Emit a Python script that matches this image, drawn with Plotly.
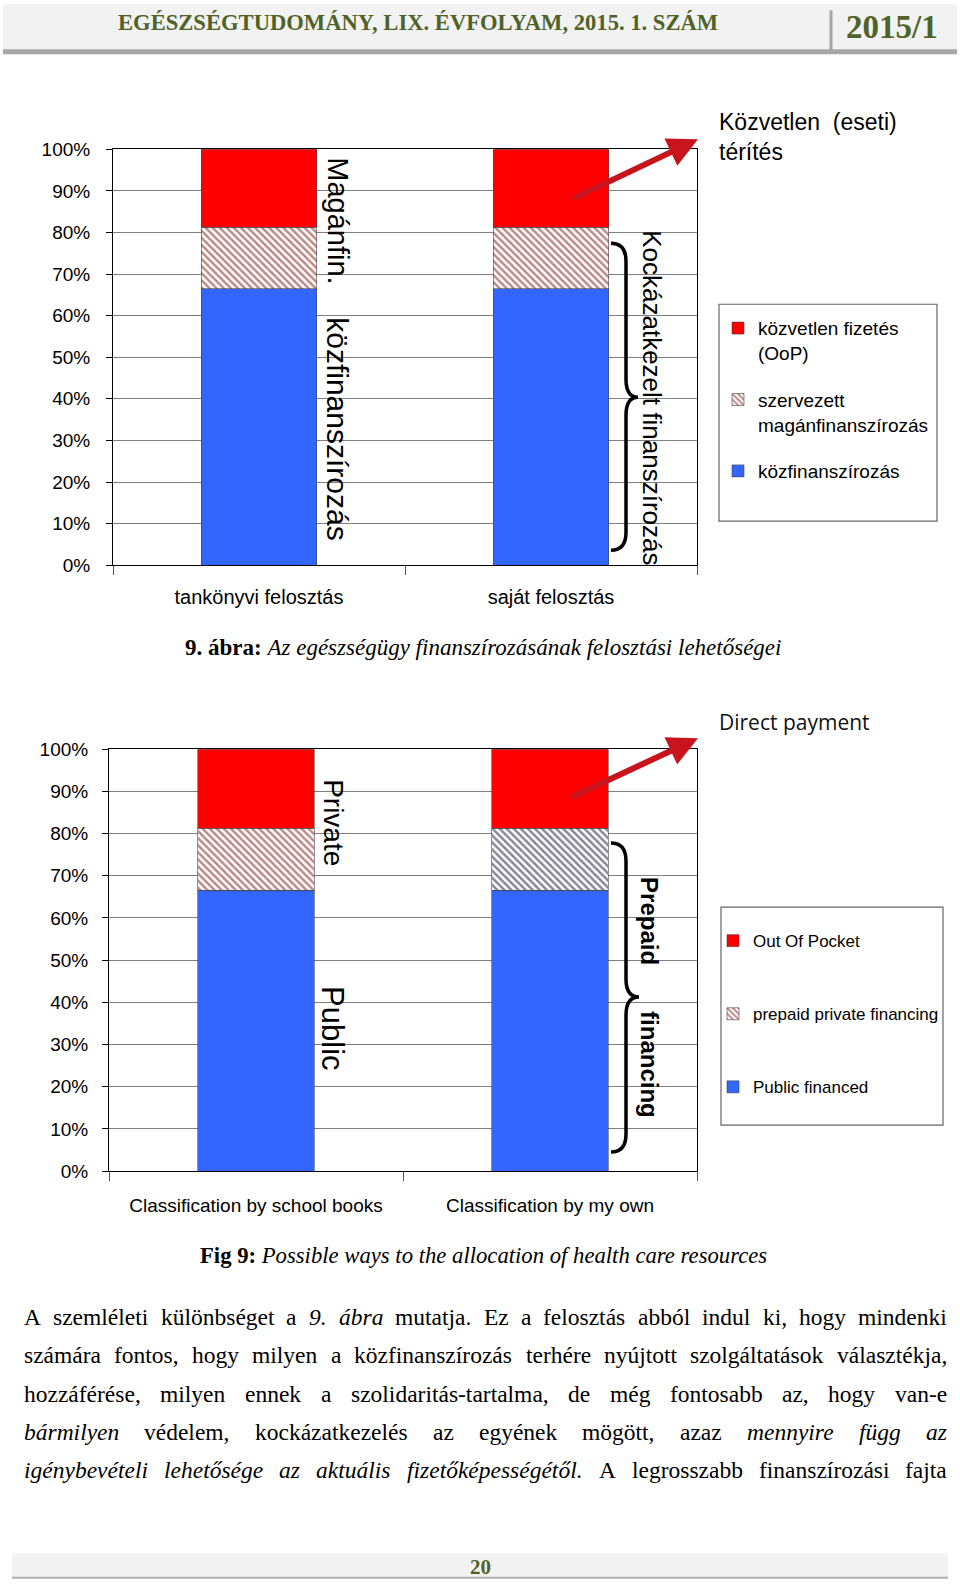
import unicodedata
import plotly.graph_objects as go

W, H = 960, 1590
# vertical calibration of the photographed page (measured from earlier renders)
OFF, SC = 9.7, 0.9870


def px(x):
    return x / W


def py(y):
    return 1 - (y - OFF) / SC / H


# ---------------- data ----------------
categories_hu = ["tankönyvi felosztás", "saját felosztás"]
categories_en = ["Classification by school books", "Classification by my own"]
public_share = [0.665, 0.665]
prepaid_private_share = [0.147, 0.147]
oop_share = [0.188, 0.188]
y_tick_vals = [0, 0.1, 0.2, 0.3, 0.4, 0.5, 0.6, 0.7, 0.8, 0.9, 1.0]
legend_hu = ["közfinanszírozás", "szervezett<br>magánfinanszírozás", "közvetlen fizetés<br>(OoP)"]
legend_en = ["Public financed", "prepaid private financing", "Out Of Pocket"]

header_title = "EGÉSZSÉGTUDOMÁNY, LIX. ÉVFOLYAM, 2015. 1. SZÁM"
header_issue = "2015/1"
caption_hu = "<b>9. ábra:</b> <i>Az egészségügy finanszírozásának felosztási lehetőségei</i>"
caption_en = "<b>Fig 9:</b> <i>Possible ways to the allocation of health care resources</i>"
page_number = "20"
body_lines = [
    [("A szemléleti különbséget a", False), ("9. ábra", True),
     ("mutatja. Ez a felosztás abból indul ki, hogy mindenki", False)],
    [("számára fontos, hogy milyen a közfinanszírozás terhére nyújtott szolgáltatások választékja,", False)],
    [("hozzáférése, milyen ennek a szolidaritás-tartalma, de még fontosabb az, hogy van-e", False)],
    [("bármilyen", True), ("védelem, kockázatkezelés az egyének mögött, azaz", False),
     ("mennyire függ az", True)],
    [("igénybevételi lehetősége az aktuális fizetőképességétől.", True),
     ("A legrosszabb finanszírozási fajta", False)],
]

# ---------------- styles ----------------
SANS = "Liberation Sans, Arial, sans-serif"
SERIF = "Liberation Serif, Times New Roman, serif"
BLUE = "#3366ff"
RED = "#ff0000"
HATCH_RED = "#7a1414"
HATCH_DARK = "#101030"
OLIVE = "#4f6228"
GRID = "#808080"
BAR_W = 0.395
EDGE = dict(color="#444444", width=0.6)

fig = go.Figure()

# top chart
fig.add_trace(go.Bar(x=categories_hu, y=public_share, name=legend_hu[0], width=BAR_W,
                     marker=dict(color=BLUE, line=EDGE),
                     xaxis="x", yaxis="y", legend="legend", legendgroup="t1", legendrank=3))
fig.add_trace(go.Bar(x=categories_hu, y=prepaid_private_share, name=legend_hu[1], width=BAR_W,
                     marker=dict(color="white", line=EDGE,
                                 pattern=dict(shape="\\", fgcolor=HATCH_RED, bgcolor="white",
                                              size=5, solidity=0.5)),
                     xaxis="x", yaxis="y", legend="legend", legendgroup="t2", legendrank=2))
fig.add_trace(go.Bar(x=categories_hu, y=oop_share, name=legend_hu[2], width=BAR_W,
                     marker=dict(color=RED, line=EDGE),
                     xaxis="x", yaxis="y", legend="legend", legendgroup="t3", legendrank=1))

# bottom chart
fig.add_trace(go.Bar(x=categories_en, y=public_share, name=legend_en[0], width=BAR_W,
                     marker=dict(color=BLUE, line=EDGE),
                     xaxis="x2", yaxis="y2", legend="legend2", legendgroup="b1", legendrank=3))
fig.add_trace(go.Bar(x=categories_en, y=prepaid_private_share, name=legend_en[1], width=BAR_W,
                     marker=dict(color="white", line=EDGE,
                                 pattern=dict(shape="\\", fgcolor=[HATCH_RED, HATCH_DARK],
                                              bgcolor="white", size=5, solidity=0.5)),
                     xaxis="x2", yaxis="y2", legend="legend2", legendgroup="b2", legendrank=2))
fig.add_trace(go.Bar(x=categories_en, y=oop_share, name=legend_en[2], width=BAR_W,
                     marker=dict(color=RED, line=EDGE),
                     xaxis="x2", yaxis="y2", legend="legend2", legendgroup="b3", legendrank=1))


def xaxis_style(domain, anchor, standoff, size):
    return dict(domain=domain, anchor=anchor, type="category", showgrid=False,
                showline=True, linecolor="black", linewidth=1, mirror=True,
                ticks="outside", tickson="boundaries", ticklen=9, tickcolor="#555555",
                tickfont=dict(family=SANS, size=size, color="black"),
                ticklabelstandoff=standoff, fixedrange=True)


def yaxis_style(domain, anchor, standoff):
    return dict(domain=domain, anchor=anchor, range=[0, 1], tickvals=y_tick_vals,
                tickformat=".0%", showgrid=True, gridcolor=GRID, gridwidth=1,
                zeroline=False, showline=True, linecolor="black", linewidth=1,
                mirror=True, ticks="outside", ticklen=6, tickcolor="black",
                tickfont=dict(family=SANS, size=19, color="black"),
                ticklabelstandoff=standoff, fixedrange=True)


shapes = []
annotations = []

# header
shapes.append(dict(type="rect", xref="paper", yref="paper", x0=px(3), x1=px(957),
                   y0=py(49), y1=py(4), fillcolor="#f2f2f2", line=dict(width=0), layer="below"))
shapes.append(dict(type="rect", xref="paper", yref="paper", x0=px(3), x1=px(957),
                   y0=py(54), y1=py(49), fillcolor="#a6a6a6", line=dict(width=0)))
shapes.append(dict(type="line", xref="paper", yref="paper", x0=px(831), x1=px(831),
                   y0=py(10), y1=py(52), line=dict(color="#a6a6a6", width=3)))
annotations.append(dict(text=f"<b>{header_title}</b>", xref="paper", yref="paper",
                        x=px(418), y=py(22), xanchor="center", yanchor="middle", showarrow=False,
                        font=dict(family=SERIF, size=22.6, color=OLIVE)))
annotations.append(dict(text=f"<b>{header_issue}</b>", xref="paper", yref="paper",
                        x=px(892), y=py(27), xanchor="center", yanchor="middle", showarrow=False,
                        font=dict(family=SERIF, size=33, color=OLIVE)))

# footer
FOOT_BOTTOM = max(py(1579), 0.0008)
shapes.append(dict(type="rect", xref="paper", yref="paper", x0=px(12), x1=px(948),
                   y0=FOOT_BOTTOM, y1=py(1553), fillcolor="#f2f2f2",
                   line=dict(width=0), layer="below"))
shapes.append(dict(type="line", xref="paper", yref="paper", x0=px(12), x1=px(948),
                   y0=FOOT_BOTTOM, y1=FOOT_BOTTOM, line=dict(color="#b0b0b0", width=2)))
annotations.append(dict(text=f"<b>{page_number}</b>", xref="paper", yref="paper",
                        x=px(480), y=py(1567), xanchor="center", yanchor="middle", showarrow=False,
                        font=dict(family=SERIF, size=21, color=OLIVE)))

# captions
annotations.append(dict(text=caption_hu, xref="paper", yref="paper", x=px(483), y=py(647),
                        xanchor="center", yanchor="middle", showarrow=False,
                        font=dict(family=SERIF, size=23, color="black")))
annotations.append(dict(text=caption_en, xref="paper", yref="paper", x=px(483), y=py(1255),
                        xanchor="center", yanchor="middle", showarrow=False,
                        font=dict(family=SERIF, size=22.7, color="black")))


def rot(text, x, y, size, bold=False):
    t = f"<b>{text}</b>" if bold else text
    annotations.append(dict(text=t, xref="paper", yref="paper", x=px(x), y=py(y),
                            xanchor="center", yanchor="middle", showarrow=False, textangle=90,
                            font=dict(family=SANS, size=size, color="black")))


def brace(x_tip_end, x_mid, x_point, y_top, y_mid, y_bot):
    r = 18
    pts = [
        f"M {px(x_tip_end)},{py(y_top)}",
        f"Q {px(x_mid)},{py(y_top)} {px(x_mid)},{py(y_top + r)}",
        f"L {px(x_mid)},{py(y_mid - r)}",
        f"Q {px(x_mid)},{py(y_mid)} {px(x_point)},{py(y_mid)}",
        f"Q {px(x_mid)},{py(y_mid)} {px(x_mid)},{py(y_mid + r)}",
        f"L {px(x_mid)},{py(y_bot - r)}",
        f"Q {px(x_mid)},{py(y_bot)} {px(x_tip_end)},{py(y_bot)}",
    ]
    shapes.append(dict(type="path", xref="paper", yref="paper", path=" ".join(pts),
                       line=dict(color="black", width=3.5)))


def arrow(head_x, head_y, tail_x, tail_y):
    annotations.append(dict(text="", xref="paper", yref="paper", x=px(head_x), y=py(head_y),
                            ax=tail_x - head_x, ay=(tail_y - head_y) / SC, showarrow=True,
                            arrowhead=2, arrowsize=1.0, arrowwidth=6, arrowcolor="#c8141c"))


# top chart decorations
rot("Magánfin.", 338, 220, 29)
rot("közfinanszírozás", 338, 428, 30)
rot("Kockázatkezelt finanszírozás", 652, 397, 26)
brace(611, 626, 638, 243, 397, 550)
arrow(698, 139, 572, 198)
annotations.append(dict(text="Közvetlen\u00a0\u00a0(eseti)<br>térítés", xref="paper", yref="paper",
                        x=px(717), y=py(137), xanchor="left", yanchor="middle", align="left",
                        showarrow=False, font=dict(family=SANS, size=23, color="black")))
shapes.append(dict(type="rect", xref="paper", yref="paper", x0=px(719), x1=px(937),
                   y0=py(521), y1=py(304), line=dict(color="#666666", width=1.2)))

# bottom chart decorations
rot("Private", 334, 822, 28)
rot("Public", 333, 1028, 31)
rot("Prepaid", 650, 921, 24, bold=True)
rot("financing", 650, 1064, 24, bold=True)
brace(611, 626, 639, 843, 997, 1152)
arrow(698, 738, 570, 797)
annotations.append(dict(text="Direct payment", xref="paper", yref="paper",
                        x=px(717), y=py(722), xanchor="left", yanchor="middle",
                        showarrow=False, font=dict(family="Open Sans, sans-serif", size=21, color="#111111")))
shapes.append(dict(type="rect", xref="paper", yref="paper", x0=px(721), x1=px(943),
                   y0=py(1125), y1=py(907), line=dict(color="#666666", width=1.2)))

# body text, justified word by word (Times metrics)
REG = dict(a=444, b=500, c=444, d=500, e=444, f=333, g=500, h=500, i=278, j=278, k=500, l=278,
           m=778, n=500, o=500, p=500, q=500, r=333, s=389, t=278, u=500, v=500, w=722, x=500,
           y=500, z=444, A=722, E=611)
ITA = dict(a=500, b=500, c=444, d=500, e=444, f=278, g=500, h=500, i=278, j=278, k=444, l=278,
           m=722, n=500, o=500, p=500, q=500, r=389, s=389, t=278, u=500, v=444, w=667, x=444,
           y=444, z=389, A=611, E=611)
PUNCT = {".": 250, ",": 250, "-": 333, "9": 500}
BODY_SIZE = 23.5
BODY_X0, BODY_X1 = 22, 945
BODY_Y0, BODY_DY = 1317, 38.3


def text_width(word, italic, size):
    tbl = ITA if italic else REG
    total = 0
    for ch in word:
        base = unicodedata.normalize("NFD", ch)[0]
        total += tbl.get(base, PUNCT.get(base, 500))
    return total / 1000 * size


for li, segs in enumerate(body_lines):
    words = []
    for seg, it in segs:
        for wd in seg.split(" "):
            words.append((wd, it))
    widths = [text_width(wd, it, BODY_SIZE) for wd, it in words]
    gap = (BODY_X1 - BODY_X0 - sum(widths)) / (len(words) - 1)
    cur = BODY_X0
    yy = BODY_Y0 + li * BODY_DY
    for (wd, it), wdt in zip(words, widths):
        t = f"<i>{wd}</i>" if it else wd
        annotations.append(dict(text=t, xref="paper", yref="paper", x=px(cur), y=py(yy),
                                xanchor="left", yanchor="middle", showarrow=False,
                                font=dict(family=SERIF, size=BODY_SIZE, color="black")))
        cur += wdt + gap

fig.update_layout(
    width=W, height=H, margin=dict(l=0, r=0, t=0, b=0), autosize=False,
    paper_bgcolor="white", plot_bgcolor="white", barmode="stack",
    xaxis=xaxis_style([px(113), px(697)], "y", 14, 20),
    yaxis=yaxis_style([py(565), py(149)], "x", 12),
    xaxis2=xaxis_style([px(109), px(697)], "y2", 17, 19),
    yaxis2=yaxis_style([py(1171), py(749)], "x2", 10),
    legend=dict(x=px(718), y=py(309), xanchor="left", yanchor="top", bgcolor="rgba(0,0,0,0)",
                borderwidth=0, font=dict(family=SANS, size=19, color="black"),
                traceorder="grouped", tracegroupgap=19, valign="top",
                itemclick=False, itemdoubleclick=False),
    legend2=dict(x=px(713), y=py(923), xanchor="left", yanchor="top", bgcolor="rgba(0,0,0,0)",
                 borderwidth=0, font=dict(family=SANS, size=17, color="black"),
                 traceorder="grouped", tracegroupgap=48, valign="middle",
                 itemclick=False, itemdoubleclick=False),
    shapes=shapes, annotations=annotations, showlegend=True,
)

fig.write_html("out.html", config={"responsive": False},
               post_script="document.body.style.margin='0';document.documentElement.style.margin='0';")
